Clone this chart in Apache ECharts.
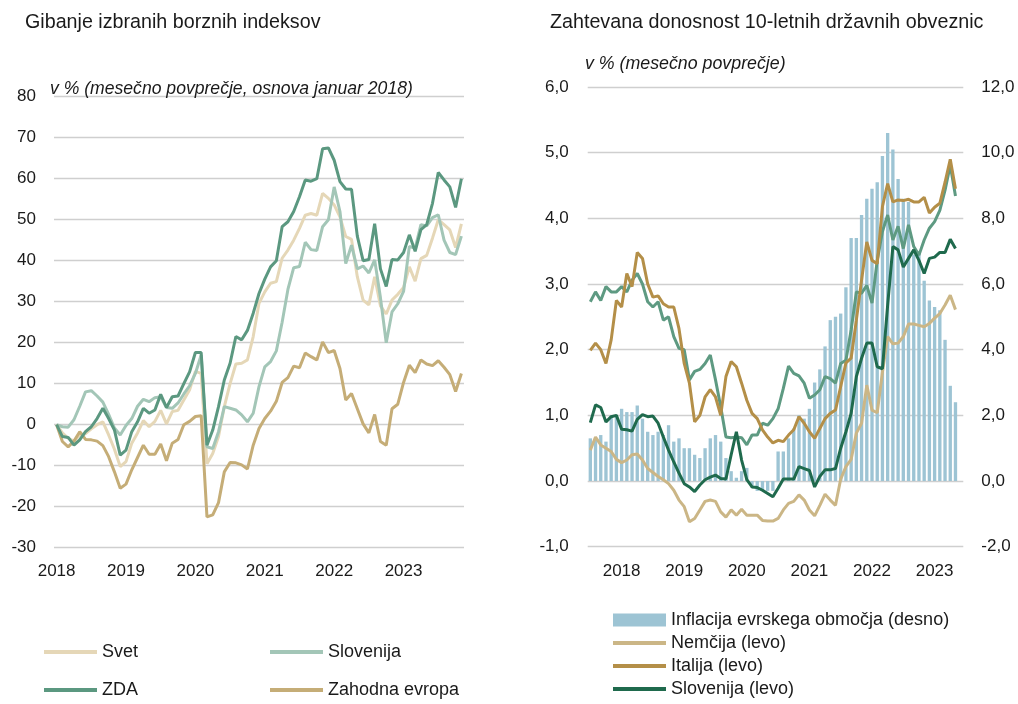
<!DOCTYPE html>
<html>
<head>
<meta charset="utf-8">
<script src="https://cdn.jsdelivr.net/npm/echarts@6/dist/echarts.min.js"></script>
<style>
html,body{margin:0;padding:0;background:#fff;}
#c{width:1018px;height:704px;}
</style>
</head>
<body>
<div id="c"></div>
<script>
// ---------- Left chart: stock indices (Jan 2018 = 0), monthly Jan 2018 – Nov 2023 ----------
const yearLabels = ['2018','2019','2020','2021','2022','2023'];
const svet = [0,-2,-3.3,-4,-2.5,-2.2,-1,0,0.7,-2.5,-6,-10.2,-9,-4.5,-2,1,-0.5,0.8,3.5,0.2,3.2,3.5,6,8.5,13,12.5,-9.5,-7,-2.9,4.4,10,14.8,15,15.8,21.5,29.6,32.4,34.5,34.9,40.6,42.6,45,47.9,51.1,51.5,51.1,56.4,55.2,53.6,50.7,45.9,45.2,36.1,30.4,29.2,36.1,29,27,30.4,31.8,33.5,38.5,35,40.5,41.3,45.5,50,48.8,47.5,43.2,49];
const slovenijaL = [0,-0.5,-0.6,1.2,4.5,8,8.3,7,5.5,2.5,-0.8,-2.5,-0.2,1.5,4.5,6.2,5.6,6.6,6.8,4.2,4,5.3,7.5,9.5,12.5,17,-5.4,-5.8,-1.7,4.4,4,3.6,2.4,0.7,2.8,9.3,14.1,15.4,18,25,33,38.3,38.6,44.5,42.7,42.5,48.3,50,58,52,39.3,43.8,38,38.7,37,40.2,31,20,27.5,29.5,32.5,43.5,43,48.8,48.5,50.5,51.2,45,42,41.5,46];
const zda = [0,-2.9,-3.1,-5,-3.7,-1.7,-0.5,1.5,4,1.5,-1.3,-7.4,-6.2,-1.7,0.7,4,2.8,3.6,7.4,4.2,6.8,7,10,12.9,17.6,17.6,-5,-1.3,4.4,10.9,15,21.5,20.7,23,27.2,32,35.5,38.5,40,48.3,49.5,52,55.6,59.7,59.4,60,67.3,67.5,64.5,59.3,57.5,57.4,46,40,40.3,49,38,33.7,40.3,40.2,42,46.3,42.3,47.6,48.8,54,61.5,59.7,58,53,60];
const zahodna = [0,-4.1,-5.4,-4,-1.7,-3.6,-3.7,-4,-5.1,-7.8,-11.5,-15.5,-14.5,-11,-8,-5,-7.2,-7.2,-4.7,-8.8,-4.5,-3.6,0,0.8,2,2.2,-22.5,-22,-19,-11.5,-9.2,-9.3,-9.8,-10.8,-5,-0.9,1.5,3.3,5.7,10.3,11.5,14.3,13.9,17.5,16.6,15.8,20.2,17.6,18.1,13.7,6,7.6,3.9,0.2,-2,2.5,-4.1,-5,3.9,5,10.3,14.5,12.7,15.8,14.8,14.4,15.6,14,12.2,8.1,12.5];

// ---------- Right chart: 10y yields (left axis) and euro area inflation (right axis) ----------
const inflacija = [1.3,1.3,1.4,1.2,2.0,2.0,2.2,2.1,2.1,2.3,1.9,1.5,
  1.4,1.5,1.4,1.7,1.2,1.3,1.0,1.0,0.8,0.7,1.0,1.3,
  1.4,1.2,0.7,0.3,0.1,0.3,0.4,-0.2,-0.3,-0.3,-0.3,-0.3,
  0.9,0.9,1.3,1.6,2.0,1.9,2.2,3.0,3.4,4.1,4.9,5.0,
  5.1,5.9,7.4,7.4,8.1,8.6,8.9,9.1,9.9,10.6,10.1,9.2,
  8.6,8.5,6.9,7.0,6.1,5.5,5.3,5.2,4.3,2.9,2.4,null];
const nemcija = [0.47,0.67,0.55,0.5,0.45,0.33,0.28,0.32,0.4,0.41,0.32,0.19,0.13,0.07,0.02,-0.04,-0.14,-0.29,-0.39,-0.62,-0.57,-0.44,-0.31,-0.29,-0.31,-0.47,-0.55,-0.44,-0.52,-0.43,-0.52,-0.52,-0.52,-0.6,-0.61,-0.61,-0.57,-0.44,-0.34,-0.31,-0.21,-0.29,-0.44,-0.53,-0.37,-0.2,-0.29,-0.37,0.03,0.22,0.33,0.73,0.88,1.46,1.08,1.04,1.66,2.2,2.09,2.1,2.2,2.39,2.39,2.37,2.35,2.4,2.48,2.55,2.68,2.83,2.61];
const italija = [1.99,2.1,2.0,1.79,2.15,2.75,2.65,3.16,2.96,3.48,3.39,3.0,2.8,2.82,2.7,2.65,2.65,2.32,1.79,1.49,0.9,1.0,1.28,1.39,1.28,1.0,1.59,1.82,1.74,1.49,1.23,1.03,0.95,0.78,0.67,0.58,0.62,0.6,0.7,0.78,0.98,0.88,0.75,0.65,0.8,0.95,1.03,1.08,1.44,1.8,1.87,2.45,3.06,3.64,3.36,3.31,4.18,4.53,4.25,4.28,4.27,4.29,4.25,4.25,4.32,4.08,4.17,4.23,4.55,4.9,4.45];
const slovenijaR = [0.89,1.16,1.12,0.9,0.98,1.0,0.79,0.78,0.76,0.94,1.01,0.98,0.99,0.88,0.67,0.47,0.29,0.12,-0.04,-0.09,-0.16,-0.06,0.02,0.06,0.09,0.04,0.03,0.4,0.75,0.32,0.02,-0.09,-0.1,-0.14,-0.19,-0.24,-0.11,0.03,0.03,0.03,0.22,0.19,0.16,-0.09,0.07,0.17,0.17,0.19,0.5,0.75,1.03,1.59,1.87,2.1,2.1,1.74,1.71,2.68,3.57,3.52,3.26,3.39,3.52,3.36,3.16,3.39,3.41,3.48,3.48,3.68,3.54];
const zdaR = [2.73,2.88,2.75,2.96,2.88,2.88,2.96,2.88,3.06,3.16,3.0,2.73,2.65,2.73,2.45,2.5,2.2,2.02,2.0,1.54,1.67,1.7,1.79,1.92,1.54,1.13,0.67,0.66,0.67,0.66,0.55,0.7,0.7,0.88,0.85,0.95,1.1,1.41,1.75,1.64,1.6,1.49,1.26,1.31,1.39,1.59,1.56,1.49,1.79,1.84,2.3,2.88,2.86,2.98,2.71,3.36,3.8,4.05,3.67,3.88,3.54,3.9,3.57,3.44,3.67,3.85,3.95,4.12,4.43,4.81,4.34];

// month categories for the right chart (Jan 2018 – Dec 2023)
const monthsR = [];
yearLabels.forEach(y => { for (let m = 1; m <= 12; m++) monthsR.push(y + '-' + (m < 10 ? '0' + m : m)); });

const FF = "'Liberation Sans',Arial,sans-serif";
const TXT = '#1a1a1a';
const GRID = '#cfcfcf';
const C = {
  svet: '#e5d7b7', sloL: '#a3c6b7', zda: '#5b9880', zah: '#c5ad77',
  infl: '#9dc4d4', nem: '#cbb686', ita: '#b48f48', sloR: '#1f6a4d', zdaR: '#5e9a82'
};
const comma = v => v.toFixed(1).replace('.', ',');
const pairs = arr => arr.map((v, i) => [i, v]);

const lineS = (name, data, color, xi, yi, z) => ({
  name, type: 'line', data, xAxisIndex: xi, yAxisIndex: yi, symbol: 'none', showSymbol: false,
  smooth: false, color, lineStyle: { color, width: 3 }, itemStyle: { color }, z: z || 3,
  emphasis: { disabled: true }, animation: false
});

const legendItem = (name, left, top, h) => ({
  data: [name], left, top, orient: 'horizontal', padding: 0, selectedMode: false,
  icon: 'rect', itemWidth: 53, itemHeight: h || 4, itemGap: 0,
  textStyle: { fontFamily: FF, fontSize: 18, color: TXT, padding: [0, 0, 0, 0] }
});

const chart = echarts.init(document.getElementById('c'), null, { renderer: 'canvas' });
chart.setOption({
  backgroundColor: '#fff',
  animation: false,
  title: [
    { text: 'Gibanje izbranih borznih indeksov', left: 25, top: 13, padding: 0,
      textStyle: { fontFamily: FF, fontSize: 19.7, fontWeight: 'normal', color: TXT } },
    { text: 'v % (mesečno povprečje, osnova januar 2018)', left: 50, top: 80, padding: 0,
      textStyle: { fontFamily: FF, fontSize: 17.6, fontStyle: 'italic', fontWeight: 'normal', color: TXT } },
    { text: 'Zahtevana donosnost 10-letnih državnih obveznic', left: 550, top: 13, padding: 0,
      textStyle: { fontFamily: FF, fontSize: 19.7, fontWeight: 'normal', color: TXT } },
    { text: 'v % (mesečno povprečje)', left: 585, top: 55, padding: 0,
      textStyle: { fontFamily: FF, fontSize: 17.8, fontStyle: 'italic', fontWeight: 'normal', color: TXT } }
  ],
  legend: [
    legendItem('Svet', 44, 643),
    legendItem('Slovenija', 270, 643),
    legendItem('ZDA', 44, 681),
    legendItem('Zahodna evropa', 270, 681),
    legendItem('Inflacija evrskega območja (desno)', 613, 611, 13),
    legendItem('Nemčija (levo)', 613, 634),
    legendItem('Italija (levo)', 613, 657),
    legendItem('Slovenija (levo)', 613, 680)
  ],
  grid: [
    { left: 54, right: 554, top: 96.7, bottom: 156.3, containLabel: false },
    { left: 587.7, right: 54.7, top: 87, bottom: 157.3, containLabel: false }
  ],
  xAxis: [
    { type: 'value', gridIndex: 0, min: -0.45, max: 70.45,
      splitLine: { show: false }, axisLine: { show: false }, axisTick: { show: false },
      axisLabel: { customValues: [0, 12, 24, 36, 48, 60], formatter: v => yearLabels[Math.round(v / 12)],
        fontFamily: FF, fontSize: 17, color: TXT, margin: 15 } },
    { type: 'category', gridIndex: 1, data: monthsR, boundaryGap: true,
      axisLine: { show: false }, axisTick: { show: false }, splitLine: { show: false },
      axisLabel: { interval: (idx) => idx % 12 === 6, formatter: v => v.slice(0, 4),
        fontFamily: FF, fontSize: 17, color: TXT, margin: 16 } }
  ],
  yAxis: [
    { type: 'value', gridIndex: 0, min: -30, max: 80, interval: 10,
      axisLine: { show: false }, axisTick: { show: false },
      splitLine: { lineStyle: { color: GRID, width: 1.3 } },
      axisLabel: { fontFamily: FF, fontSize: 17, color: TXT, margin: 18 } },
    { type: 'value', gridIndex: 1, min: -1, max: 6, interval: 1,
      axisLine: { show: false }, axisTick: { show: false },
      splitLine: { lineStyle: { color: GRID, width: 1.3 } },
      axisLabel: { formatter: comma, fontFamily: FF, fontSize: 17, color: TXT, margin: 19 } },
    { type: 'value', gridIndex: 1, position: 'right', min: -2, max: 12, interval: 2,
      axisLine: { show: false }, axisTick: { show: false }, splitLine: { show: false },
      axisLabel: { formatter: comma, fontFamily: FF, fontSize: 17, color: TXT, margin: 18 } }
  ],
  series: [
    lineS('Svet', pairs(svet), C.svet, 0, 0, 3),
    lineS('Slovenija', pairs(slovenijaL), C.sloL, 0, 0, 4),
    lineS('Zahodna evropa', pairs(zahodna), C.zah, 0, 0, 5),
    lineS('ZDA', pairs(zda), C.zda, 0, 0, 6),
    { name: 'Inflacija evrskega območja (desno)', type: 'bar', data: inflacija, xAxisIndex: 1, yAxisIndex: 2,
      barCategoryGap: '36%', color: C.infl, itemStyle: { color: C.infl }, emphasis: { disabled: true }, z: 2, animation: false },
    lineS('Nemčija (levo)', nemcija, C.nem, 1, 1, 3),
    lineS('ZDA (levo)', zdaR, C.zdaR, 1, 1, 4),
    lineS('Italija (levo)', italija, C.ita, 1, 1, 5),
    lineS('Slovenija (levo)', slovenijaR, C.sloR, 1, 1, 6)
  ]
});
</script>
</body>
</html>
